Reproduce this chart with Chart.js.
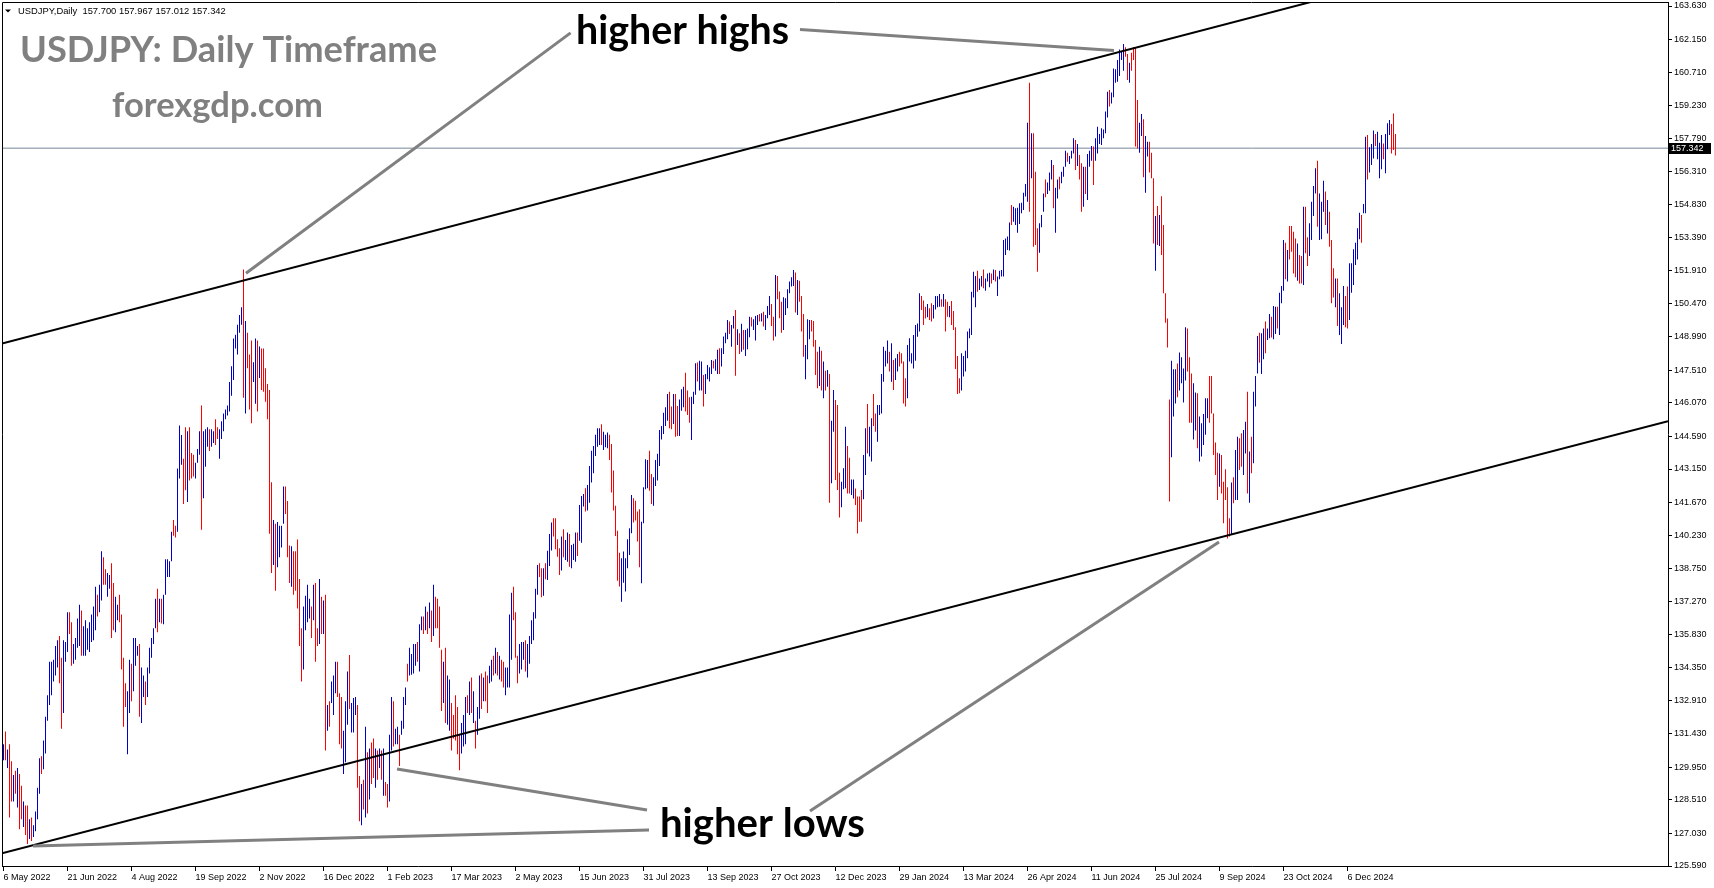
<!DOCTYPE html>
<html>
<head>
<meta charset="utf-8">
<title>USDJPY Daily</title>
<script src="https://cdn.jsdelivr.net/npm/chart.js@4.4.1/dist/chart.umd.min.js"></script>
<style>
  html, body { margin: 0; padding: 0; background: #fff; overflow: hidden; }
</style>
</head>
<body>
<canvas id="chart" width="1714" height="888"></canvas>
<script>
// daily bars: high, low and bar colour (u = up/blue, d = down/red)
const highs = [
  130.97,131.54,130.74,130.97,130.22,129.61,129.80,129.92,129.66,129.14,
  128.44,128.27,128.27,127.66,127.74,127.39,128.00,129.05,130.36,130.44,
  131.14,132.19,133.14,134.63,134.63,134.71,135.32,135.58,135.76,134.80,
  135.58,135.50,136.81,136.81,136.37,135.41,135.67,136.54,137.15,136.89,
  136.19,136.46,136.11,136.37,136.72,137.07,137.94,137.59,138.03,139.51,
  139.25,138.72,138.55,138.46,138.98,138.11,137.50,137.15,137.59,136.72,
  134.80,133.67,133.32,134.71,134.54,135.67,135.67,135.32,135.41,134.37,
  134.02,133.75,134.37,135.24,135.67,136.11,137.41,137.85,137.41,137.41,
  137.59,139.16,139.16,139.07,140.38,140.90,140.64,143.17,145.08,144.65,
  143.60,145.00,144.82,145.00,143.86,143.78,143.43,144.04,144.82,145.96,
  144.82,144.91,145.00,144.91,144.91,144.82,145.35,145.00,144.91,145.26,
  145.61,145.78,145.96,147.00,147.70,148.92,149.09,149.53,149.96,150.31,
  151.97,149.70,149.18,148.22,148.83,147.87,148.92,148.83,148.57,148.48,
  148.48,147.61,146.91,146.65,142.56,140.90,140.73,140.81,140.64,140.64,
  142.38,142.38,141.74,139.77,139.73,139.51,139.51,140.03,138.29,136.11,
  137.07,137.54,138.03,137.41,137.07,138.03,138.11,136.11,138.29,137.50,
  137.33,137.59,132.71,132.88,133.75,134.02,134.63,134.63,133.23,133.06,
  131.57,132.88,134.19,134.92,132.80,133.02,133.06,132.71,129.57,129.22,
  129.40,131.75,130.62,130.79,131.05,131.23,130.79,130.70,130.79,130.70,
  130.79,129.31,129.22,131.40,133.06,132.88,131.66,131.75,131.40,132.01,
  133.06,133.49,134.54,135.24,134.97,135.41,135.41,135.50,136.28,136.63,
  136.63,137.07,136.84,137.24,136.89,138.03,137.50,137.41,137.07,135.15,
  134.63,135.24,134.02,133.84,132.80,132.27,133.14,132.62,131.40,131.92,
  132.27,133.06,133.14,133.75,133.93,133.32,132.01,132.62,134.02,134.10,
  133.93,134.19,134.02,134.45,134.71,134.89,135.24,135.06,134.89,134.71,
  134.63,134.37,134.37,136.72,137.68,137.94,136.81,134.89,135.41,135.50,
  135.50,135.58,135.41,135.76,136.46,136.81,137.85,138.90,138.98,138.76,
  138.76,138.98,139.53,140.28,140.78,140.97,140.97,140.04,139.64,140.16,
  140.48,140.01,140.34,140.28,139.79,139.84,140.34,140.34,141.56,141.96,
  142.05,142.30,142.44,143.28,143.96,144.17,144.66,144.95,144.95,145.13,
  144.80,144.66,144.76,144.66,144.26,143.08,141.52,140.42,139.45,139.20,
  139.50,139.20,140.04,140.53,142.00,141.86,141.75,141.27,141.37,140.82,
  142.34,143.58,143.55,143.96,142.93,142.78,143.55,143.82,144.88,145.05,
  145.64,145.88,146.47,146.57,145.91,146.47,146.47,145.94,146.23,146.68,
  146.79,147.41,146.62,146.32,146.35,146.57,147.83,147.86,147.94,147.90,
  147.31,147.35,147.75,147.65,147.97,147.94,148.00,148.42,148.49,148.49,
  149.01,149.18,149.74,149.67,149.52,149.92,150.18,149.33,149.15,149.57,
  149.30,149.30,149.37,149.89,149.86,149.77,149.92,149.96,150.01,150.04,
  150.11,149.96,150.36,150.80,150.45,149.89,151.73,151.69,151.00,150.55,
  150.75,150.70,151.10,151.44,151.63,151.95,151.84,151.51,151.48,150.80,
  150.01,148.64,149.77,149.74,149.74,149.70,148.86,148.34,148.56,148.38,
  147.90,147.50,147.53,147.35,145.29,146.64,146.20,145.98,142.99,142.59,
  143.18,145.02,144.17,143.65,142.69,142.69,142.29,141.93,141.93,142.22,
  143.77,144.95,146.03,145.02,145.39,146.47,145.61,145.98,145.98,147.35,
  148.56,148.38,148.83,148.34,148.71,147.97,148.05,148.24,148.34,148.27,
  147.90,147.16,148.64,148.93,148.27,149.08,149.52,149.59,150.92,150.80,
  150.60,150.33,150.45,150.26,150.48,150.40,150.80,150.80,150.89,150.66,
  150.89,150.66,150.55,150.36,150.58,150.14,149.42,148.15,147.16,148.27,
  148.15,148.38,149.23,149.37,150.99,151.88,151.69,151.92,151.58,151.69,
  151.98,151.58,151.80,151.83,151.80,151.98,151.95,151.66,151.92,151.95,
  153.28,153.35,153.43,154.05,154.83,154.75,154.68,154.71,154.90,154.93,
  155.37,155.76,158.47,160.24,158.00,158.00,156.30,153.80,154.02,154.39,
  155.34,155.96,155.82,156.26,156.82,156.60,155.59,155.96,156.08,156.30,
  156.52,157.23,157.14,156.99,157.23,157.78,157.70,157.53,157.04,156.67,
  156.52,156.52,157.08,157.23,157.44,157.41,157.78,158.29,157.97,158.22,
  158.17,158.96,159.84,159.91,159.80,160.87,160.83,161.24,161.71,161.61,
  161.95,161.80,161.51,161.12,161.56,161.80,161.80,159.47,158.47,158.85,
  158.62,157.88,157.63,157.63,157.14,156.01,154.34,154.78,154.38,155.22,
  153.94,150.92,149.81,146.23,147.94,147.56,147.56,147.82,148.30,148.09,
  147.60,149.42,149.37,148.09,147.38,146.94,146.53,146.50,145.47,145.17,
  145.58,146.28,146.28,147.26,147.26,145.61,144.32,143.87,143.84,143.77,
  142.59,143.14,142.34,140.97,142.55,142.78,143.99,144.58,144.51,144.73,
  144.88,145.24,146.57,143.92,144.58,146.57,147.26,149.03,149.18,149.15,
  149.37,149.67,149.37,150.01,149.89,150.36,150.33,150.33,150.95,151.25,
  153.28,153.16,152.84,153.90,153.90,153.65,153.35,153.13,152.62,152.57,
  154.75,154.75,153.40,154.02,154.97,155.67,156.45,156.79,155.34,154.97,
  155.90,155.42,155.05,154.53,153.28,152.03,151.58,151.58,150.92,150.30,
  151.25,150.80,151.22,152.25,152.25,152.87,153.16,153.80,154.49,154.39,
  154.87,157.85,157.92,157.38,157.53,158.12,157.97,158.07,157.58,157.92,
  157.55,157.97,158.44,158.59,158.41,158.88,157.967
];
const lows = [
  130.27,130.27,129.92,127.74,128.44,128.44,128.79,128.18,127.22,127.66,
  127.31,126.96,126.56,126.78,126.70,126.87,127.13,127.66,128.79,129.66,
  129.87,130.57,132.01,132.71,133.14,133.75,134.02,134.37,133.67,131.66,
  132.36,134.63,135.06,135.85,134.45,134.54,134.71,135.24,135.32,134.89,
  134.89,134.89,135.15,135.06,135.50,135.58,136.02,136.63,136.81,137.33,
  138.03,138.03,137.50,137.85,135.67,136.02,135.93,136.46,136.37,134.28,
  131.75,132.62,130.53,132.36,132.88,133.32,134.45,134.89,132.19,131.92,
  133.06,132.71,133.06,134.10,134.80,135.41,136.11,135.93,136.37,136.32,
  136.28,137.59,138.37,138.37,139.07,140.20,140.12,140.38,142.73,143.34,
  141.60,142.21,141.69,142.64,142.73,142.82,142.73,143.43,143.78,140.46,
  141.86,143.25,144.13,143.95,144.13,144.30,144.21,144.48,143.60,144.48,
  144.82,145.35,145.52,145.69,146.39,147.09,148.48,148.22,149.18,149.53,
  146.30,145.61,147.61,145.78,145.17,147.00,146.04,145.69,147.17,146.65,
  146.57,146.13,145.35,140.29,138.55,138.90,137.76,138.81,139.25,139.68,
  140.73,141.16,139.25,138.11,137.94,137.59,137.76,136.98,135.32,133.75,
  134.28,136.02,136.37,136.54,135.67,136.46,134.63,135.32,135.41,135.85,
  135.85,130.70,131.57,131.75,132.80,132.27,133.23,133.06,130.97,130.79,
  129.66,130.18,131.84,132.53,131.49,131.49,132.27,129.05,127.57,127.39,
  128.09,127.74,127.91,128.53,129.22,129.48,129.05,129.40,129.92,129.40,
  128.70,128.70,128.18,128.44,130.70,130.88,130.97,130.97,130.01,131.40,
  131.66,132.71,133.75,134.02,134.05,134.10,134.45,134.63,134.19,136.02,
  135.85,136.02,135.85,136.11,135.50,135.76,136.11,136.11,135.24,132.45,
  132.80,131.92,131.84,131.57,130.70,131.23,131.14,130.53,129.83,130.57,
  130.88,130.97,132.36,132.27,132.36,131.92,130.79,131.40,132.10,132.53,
  132.88,132.88,132.36,133.67,133.75,134.02,134.10,134.02,133.84,133.75,
  133.49,133.14,133.49,133.49,134.71,136.46,134.80,133.67,134.10,134.28,
  134.71,134.19,133.93,134.54,135.41,135.58,136.54,137.59,138.37,137.48,
  137.54,138.27,138.24,138.86,139.54,140.16,139.60,139.27,138.46,138.66,
  139.25,139.13,139.05,138.83,138.76,139.13,139.05,139.30,139.98,139.89,
  141.49,141.27,141.31,141.66,142.55,142.96,143.73,144.14,144.21,144.21,
  143.99,144.11,144.07,143.55,142.11,141.31,140.19,138.21,137.95,137.28,
  138.12,137.73,138.76,139.35,140.31,140.78,140.87,139.94,138.80,138.10,
  140.75,142.25,142.30,142.19,141.60,141.52,142.40,142.64,143.28,144.46,
  144.70,145.05,145.29,144.95,144.91,145.14,144.58,144.61,144.61,145.73,
  145.88,145.69,145.54,145.20,144.43,146.03,146.43,147.02,146.62,146.62,
  145.91,146.47,147.12,147.02,147.35,147.60,147.50,147.35,147.35,147.68,
  148.24,148.71,148.89,149.12,148.56,149.37,147.27,148.64,148.24,148.34,
  148.42,148.15,148.45,148.98,149.45,149.30,148.83,149.52,149.67,149.67,
  149.45,149.30,149.82,149.96,149.48,148.83,149.01,150.66,149.82,149.18,
  149.30,149.96,150.26,150.92,151.22,151.25,150.07,149.96,150.55,149.23,
  148.12,147.12,148.00,148.89,149.23,148.56,147.31,146.72,146.82,146.62,
  146.28,146.62,146.79,141.66,142.52,144.80,142.66,142.22,141.01,141.46,
  142.25,142.30,142.07,142.07,142.00,141.85,141.56,140.30,140.82,140.82,
  141.81,142.89,143.84,143.70,143.48,145.05,144.80,144.36,145.54,145.61,
  147.01,147.68,147.82,147.46,147.01,146.65,147.09,147.46,147.68,147.82,
  146.05,145.91,146.28,147.90,147.82,147.60,147.94,149.00,149.23,150.18,
  149.52,149.81,149.86,149.74,149.67,149.81,150.21,150.30,150.33,150.33,
  150.33,149.23,149.89,149.86,149.52,149.30,147.57,146.47,146.50,146.62,
  147.24,147.46,148.05,148.93,149.08,150.74,150.30,150.99,151.07,151.22,
  151.14,151.04,151.44,151.19,151.36,151.51,151.44,150.80,151.54,151.66,
  151.66,152.62,152.84,152.81,153.94,154.09,153.94,153.60,153.99,154.46,
  154.61,155.20,154.97,154.53,156.01,152.98,153.06,151.88,152.72,153.84,
  154.53,155.17,155.31,155.46,155.96,154.68,153.60,155.12,155.52,155.79,
  156.08,156.52,156.74,156.64,156.89,157.11,156.38,156.55,155.96,154.53,
  154.75,155.31,155.05,156.52,156.79,155.71,156.79,157.11,157.53,157.48,
  157.78,158.00,158.70,159.18,159.32,159.59,160.24,160.28,160.53,161.24,
  160.77,161.39,160.36,160.24,160.77,161.24,157.41,157.33,157.14,157.88,
  156.05,155.37,156.97,156.26,156.01,153.13,151.92,153.06,153.01,152.62,
  150.92,149.62,148.53,141.71,143.67,145.47,146.05,146.32,146.62,146.94,
  146.09,147.06,147.46,145.20,145.20,144.46,144.85,144.07,143.48,143.70,
  144.21,144.66,145.39,145.20,145.61,143.77,142.89,141.78,142.37,142.07,
  140.75,141.78,140.08,140.16,140.28,141.63,141.78,141.78,143.11,143.25,
  142.89,143.84,142.07,141.66,142.96,143.40,145.91,147.38,147.85,147.35,
  148.00,148.27,148.86,148.93,148.97,148.89,149.12,149.37,149.08,150.48,
  151.04,151.54,151.44,152.42,152.76,151.80,151.63,151.48,151.36,151.36,
  151.29,152.69,152.13,152.57,153.28,154.34,155.34,153.87,153.28,153.31,
  154.53,153.94,153.57,152.98,150.48,150.74,150.30,149.48,149.08,148.68,
  149.52,149.42,149.37,149.74,150.95,151.29,152.17,152.42,153.31,153.16,
  154.46,154.46,155.96,156.26,156.60,156.89,157.44,156.85,156.01,156.41,
  156.85,156.23,157.29,157.92,157.11,157.26,157.012
];
const dirs = (
  'ududdududd udduduuuud uuuuuuuudd uuudduuuud uuuuuuuduu dduudduudd dduuduuudu uduuuuudud uuuuudduuu dduddduuud ' +
  'uuuduudduu uuuuuuuuuu duddduudud ddddduduuu uddduddddd uuuududdud ududuuuddd uuuduuuddu dududdudud udduuduudu ' +
  'uuduuuuduu dudududddd uduudddddu uudududuud udduududud duuuuddduu uduuuuuudd uduuuddddu duuduuuduu uduuuuuuud ' +
  'uuuddddddu uuuuuddddu uuudduuuuu uuuddudduu uddduuuduu duuuuduudu uuuduududu duuuduuudu duuudduddd uuuuuududd ' +
  'duuuddddud ududuudddu uudduudddd uuduudduuu uuududuudd dduuuuuuud ddudduuuud uddudddddu uuuuuuuduu duuududuuu ' +
  'uuuuduuuuu uuududdduu uduuuduudu uuduuududd uduuuduuuu uuuduuuuuu uddudddduu duudddudud dddduuuduu uuddduuduu ' +
  'uuudddddud dddduduudd uududuuudu uduuduuduu ududdddudd udduuuuduu ududdduduu udduuuuuud uuduuuduuu duuuddd'
).replace(/ /g, '');

// last bar: open, high, low, close (header and price tag)
const lastOHLC = [157.700, 157.967, 157.012, 157.342];

// time axis: one label every 32 bars, starting at bar 0
const dateLabels = ['6 May 2022','21 Jun 2022','4 Aug 2022','19 Sep 2022','2 Nov 2022','16 Dec 2022',
  '1 Feb 2023','17 Mar 2023','2 May 2023','15 Jun 2023','31 Jul 2023','13 Sep 2023','27 Oct 2023',
  '12 Dec 2023','29 Jan 2024','13 Mar 2024','26 Apr 2024','11 Jun 2024','25 Jul 2024','9 Sep 2024',
  '23 Oct 2024','6 Dec 2024'];
const labelStep = 32;

// price axis labels
const priceTicks = [163.630,162.150,160.710,159.230,157.790,156.310,154.830,153.390,151.910,150.470,
  148.990,147.510,146.070,144.590,143.150,141.670,140.230,138.750,137.270,135.830,134.350,132.910,
  131.430,129.950,128.510,127.030,125.590];

// drawn objects, endpoints as [bar index, price]
const upperChannel = [[-0.75, 148.70], [832.25, 167.93]];
const lowerChannel = [[-0.75, 126.15], [832.25, 145.26]];
const pointerLines = [
  [[283.55, 162.44], [121.25, 151.81]],
  [[398.25, 162.59], [555.25, 161.66]],
  [[196.75, 129.88], [321.75, 128.07]],
  [[14.75, 126.47], [322.75, 127.18]],
  [[403.25, 128.02], [607.75, 139.92]]
];

const UP = '#0000cd', DOWN = '#ff0000';
const n = Math.min(highs.length, lows.length, dirs.length);

const barData = [];
const barColors = [];
for (let i = 0; i < n; i++) {
  barData.push({ x: i, y: [lows[i], highs[i]] });
  barColors.push(dirs[i] === 'u' ? UP : DOWN);
}

function seg(pts, color, width, order) {
  return {
    type: 'line',
    data: pts.map(p => ({ x: p[0], y: p[1] })),
    borderColor: color,
    borderWidth: width,
    pointRadius: 0,
    fill: false,
    tension: 0,
    order: order,
    clip: 0
  };
}

const datasets = [
  seg([[-0.75, lastOHLC[3]], [832.25, lastOHLC[3]]], '#778899', 1, 5),
  {
    type: 'bar',
    data: barData,
    backgroundColor: barColors,
    barThickness: 1,
    borderWidth: 0,
    inflateAmount: 0,
    order: 4
  },
  seg(upperChannel, '#000000', 2, 2),
  seg(lowerChannel, '#000000', 2, 2)
];
pointerLines.forEach(p => datasets.push(seg(p, '#808080', 3, 1)));

function fitText(ctx, text, weight, family, x, baseline, width, color) {
  ctx.font = weight + ' 100px ' + family;
  const w = ctx.measureText(text).width;
  ctx.font = weight + ' ' + (100 * width / w).toFixed(2) + 'px ' + family;
  ctx.fillStyle = color;
  ctx.textAlign = 'left';
  ctx.textBaseline = 'alphabetic';
  ctx.fillText(text, x, baseline);
}

const decorations = {
  id: 'decorations',
  afterDatasetsDraw(chart) {
    const ctx = chart.ctx;
    const a = chart.chartArea;
    ctx.save();
    // frame on the left and top
    ctx.strokeStyle = '#000';
    ctx.lineWidth = 1;
    ctx.beginPath();
    ctx.moveTo(a.left + 0.5, a.bottom);
    ctx.lineTo(a.left + 0.5, a.top + 0.5);
    ctx.lineTo(a.right, a.top + 0.5);
    ctx.stroke();

    // header
    ctx.fillStyle = '#000';
    ctx.beginPath();
    ctx.moveTo(5, 9.5); ctx.lineTo(11, 9.5); ctx.lineTo(8, 12.5); ctx.closePath();
    ctx.fill();
    const head = 'USDJPY,Daily  ' + lastOHLC.map(v => v.toFixed(3)).join(' ');
    fitText(ctx, head, 'normal', '"Liberation Sans", Arial, sans-serif', 18, 14, 208, '#000');

    fitText(ctx, 'USDJPY: Daily Timeframe', 'bold', 'Lato, "Open Sans", sans-serif', 20, 62, 417, '#808080');
    fitText(ctx, 'forexgdp.com', 'bold', 'Lato, "Open Sans", sans-serif', 112, 117, 211, '#808080');
    fitText(ctx, 'higher highs', 'bold', 'Lato, "Open Sans", sans-serif', 576, 44, 213, '#000');
    fitText(ctx, 'higher lows', 'bold', 'Lato, "Open Sans", sans-serif', 660, 837, 205, '#000');
    ctx.restore();
  },
  afterDraw(chart) {
    // current price tag on the price axis
    const ctx = chart.ctx;
    const y = Math.round(chart.scales.y.getPixelForValue(lastOHLC[3]));
    ctx.save();
    ctx.fillStyle = '#000';
    ctx.fillRect(1669, y - 5, 42, 11);
    ctx.fillStyle = '#fff';
    ctx.font = '9px "Liberation Sans", Arial, sans-serif';
    ctx.textAlign = 'left';
    ctx.textBaseline = 'middle';
    ctx.fillText(lastOHLC[3].toFixed(3), 1671, y + 0.5);
    ctx.restore();
  }
};

new Chart(document.getElementById('chart'), {
  type: 'bar',
  data: { datasets: datasets },
  options: {
    responsive: false,
    devicePixelRatio: 1,
    animation: false,
    events: [],
    layout: { padding: { left: 2, top: 2, right: 0, bottom: 0 } },
    plugins: { legend: { display: false }, tooltip: { enabled: false } },
    scales: {
      x: {
        type: 'linear',
        position: 'bottom',
        min: -0.75,
        max: 832.25,
        offset: false,
        grid: { drawOnChartArea: false, drawTicks: true, tickLength: 5, color: '#000', offset: false },
        border: { color: '#000', width: 1 },
        ticks: {
          autoSkip: false,
          maxRotation: 0,
          minRotation: 0,
          align: 'start',
          padding: 1,
          color: '#000',
          font: { family: '"Liberation Sans", Arial, sans-serif', size: 9 },
          callback: v => dateLabels[Math.round(v / labelStep)]
        },
        afterBuildTicks: s => { s.ticks = dateLabels.map((_, k) => ({ value: k * labelStep })); },
        afterFit: s => { s.height = 22; s.paddingLeft = 0; s.paddingRight = 0; }
      },
      y: {
        type: 'linear',
        position: 'right',
        min: 125.59,
        max: 163.807,
        grid: { drawOnChartArea: false, drawTicks: true, tickLength: 4, color: '#000' },
        border: { color: '#000', width: 1 },
        ticks: {
          autoSkip: false,
          padding: 2,
          color: '#000',
          font: { family: '"Liberation Sans", Arial, sans-serif', size: 9 },
          callback: v => Number(v).toFixed(3)
        },
        afterBuildTicks: s => { s.ticks = priceTicks.map(v => ({ value: v })); },
        afterFit: s => { s.width = 46; s.paddingTop = 0; s.paddingBottom = 0; }
      }
    }
  },
  plugins: [decorations]
});
</script>
</body>
</html>
